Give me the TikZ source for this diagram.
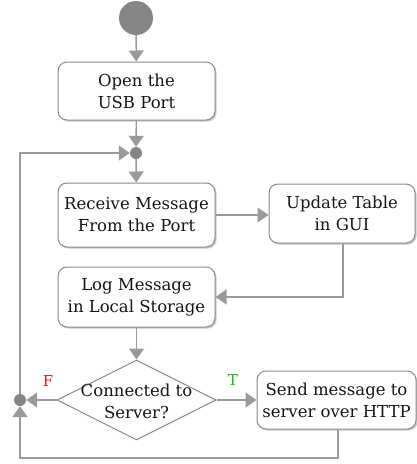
\documentclass[tikz,border=0pt]{standalone}
\usepackage{fontspec}
\setmainfont{DejaVu Serif}
\usetikzlibrary{arrows.meta,shapes.geometric,shadows,calc}
\definecolor{linegray}{HTML}{9A9A9A}
\definecolor{boxgray}{HTML}{8A8A8A}
\definecolor{dotgray}{HTML}{858585}
\definecolor{txt}{HTML}{151515}
\definecolor{fred}{HTML}{E02020}
\definecolor{tgreen}{HTML}{10C010}
\tikzset{
  actbox/.style={draw=boxgray, line width=1pt, rounded corners=9pt, fill=white,
    align=center, text=txt, inner sep=0pt,
    font=\fontsize{16.5}{22}\selectfont,
    drop shadow={shadow xshift=1.6pt, shadow yshift=-1.6pt, fill=black!35, opacity=0.6}},
  mergedot/.style={circle, fill=dotgray, inner sep=0pt, minimum size=12pt},
  conn/.style={draw=linegray, line width=1.4pt,
    -{Triangle[width=15pt,length=11pt]}, color=linegray},
  lbl/.style={font=\fontsize{15}{17}\selectfont, inner sep=0pt}
}
\begin{document}
\begin{tikzpicture}[x=1pt,y=-1pt]
\useasboundingbox (0,0) rectangle (417,464);
\node[circle, fill=dotgray, minimum size=34pt, inner sep=0pt] (start) at (136,18) {};
\node[actbox, minimum width=157pt, minimum height=58pt] (open) at (136.5,91) {Open the\\USB Port};
\node[mergedot] (m1) at (136,153) {};
\node[actbox, minimum width=157pt, minimum height=64pt] (recv) at (136.5,215) {Receive Message\\From the Port};
\node[actbox, minimum width=146pt, minimum height=59pt] (upd) at (342,213.5) {Update Table\\in GUI};
\node[actbox, minimum width=157pt, minimum height=60pt] (log) at (136.5,297) {Log Message\\in Local Storage};
\node[diamond, draw=boxgray, line width=1pt, fill=white, inner sep=0pt, minimum width=159pt, minimum height=80pt] (dec) at (136.5,400) {};
\node[align=center, text=txt, font=\fontsize{16.5}{22}\selectfont] (dectext) at (136.5,401) {Connected to\\Server?};
\node[actbox, minimum width=159pt, minimum height=58pt] (send) at (336.5,400) {Send message to\\server over HTTP};
\node[mergedot] (m2) at (20,400) {};
\coordinate (loopb) at (338,458);

\draw[conn] (start) -- (open);
\draw[conn] (open) -- (m1);
\draw[conn] (m1) -- (recv);
\draw[conn] (recv.east) -- (recv.east -| upd.west);
\draw[conn] ($(upd.south)+(1,0)$) |- (log.east);
\draw[conn] (log) -- (dec);
\draw[conn] (dec.west) -- (m2);
\draw[conn] (dec.east) -- (send.west);
\draw[conn] ($(send.south)+(1.5,0)$) -- (loopb) -| (m2);
\draw[conn] (m2) -- (m2 |- m1) -- (m1);

\node[lbl, text=fred] (flbl) at (48,381) {F};
\node[lbl, text=tgreen] (tlbl) at (233,380) {T};
\end{tikzpicture}
\end{document}
